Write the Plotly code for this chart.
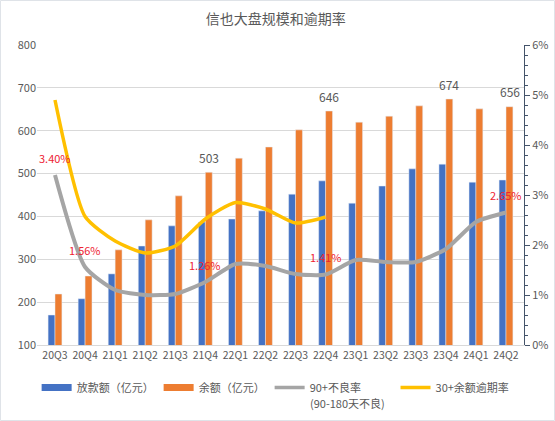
import plotly.graph_objects as go

quarters = ["20Q3", "20Q4", "21Q1", "21Q2", "21Q3", "21Q4", "22Q1", "22Q2",
            "22Q3", "22Q4", "23Q1", "23Q2", "23Q3", "23Q4", "24Q1", "24Q2"]
loan_amount = [170, 208, 266, 331, 378, 387, 394, 413, 452, 483, 431, 471, 511, 522, 480, 485]
balance = [219, 261, 322, 392, 448, 503, 536, 562, 602, 646, 620, 634, 658, 674, 651, 656]
npl90 = [3.40, 1.56, 1.10, 1.00, 1.02, 1.26, 1.62, 1.58, 1.42, 1.41, 1.70, 1.66, 1.66, 1.92, 2.46, 2.65]
dpd30 = [4.90, 2.57, 2.08, 1.84, 1.98, 2.52, 2.85, 2.72, 2.44, 2.56,
         None, None, None, None, None, None]
npl_labeled = ["20Q3", "20Q4", "21Q4", "22Q4", "24Q2"]
balance_labeled = ["21Q4", "22Q4", "23Q4", "24Q2"]

BLUE = "#4472c4"
ORANGE = "#ed7d31"
GRAY = "#a5a5a5"
YELLOW = "#ffc000"
TXT = "#595959"
RED = "#ee2232"
FONT = "Noto Sans CJK SC"

fig = go.Figure()
fig.add_trace(go.Bar(x=quarters, y=loan_amount, marker_color=BLUE, showlegend=False, yaxis="y"))
fig.add_trace(go.Bar(x=quarters, y=balance, marker_color=ORANGE, showlegend=False, yaxis="y"))
fig.add_trace(go.Scatter(x=quarters, y=npl90, mode="lines", line=dict(color=GRAY, width=4, shape="spline", smoothing=0.6),
                         showlegend=False, yaxis="y2"))
fig.add_trace(go.Scatter(x=quarters, y=dpd30, mode="lines", line=dict(color=YELLOW, width=3.5, shape="spline", smoothing=0.6),
                         showlegend=False, yaxis="y2", connectgaps=False))

# legend-only entries (wide swatches)
legend_items = [("放款额（亿元）", BLUE, 7), ("余额（亿元）", ORANGE, 7),
                ("90+不良率" + "\u00a0" * 12, GRAY, 3.5), ("30+余额逾期率", YELLOW, 3.5)]
for name, col, w in legend_items:
    fig.add_trace(go.Scatter(x=[None], y=[None], mode="lines", name=name,
                             line=dict(color=col, width=w), yaxis="y2"))

annotations = []
for q, v in zip(quarters, npl90):
    if q in npl_labeled:
        annotations.append(dict(x=q, y=v, xref="x", yref="y2", text=f"{v:.2f}%", showarrow=False,
                                yshift=17.5, font=dict(color=RED, size=11, family=FONT)))
for q, v in zip(quarters, balance):
    if q in balance_labeled:
        annotations.append(dict(x=q, y=v, xref="x", yref="y", text=f"{v}", showarrow=False,
                                xshift=3.5, yshift=15, font=dict(color=TXT, size=12, family=FONT)))
# second line of the 90+ legend entry
annotations.append(dict(x=(347 - 37) / 487, y=(345 - 403) / 300, xref="paper", yref="paper",
                        text="(90-180天不良)", showarrow=False, xanchor="center", yanchor="middle",
                        font=dict(color=TXT, size=11, family=FONT)))

fig.update_layout(
    width=555, height=421,
    margin=dict(l=37, r=31, t=45, b=76, autoexpand=False),
    paper_bgcolor="white", plot_bgcolor="white",
    font=dict(family=FONT, color=TXT, size=11),
    title=dict(text="信也大盘规模和逾期率", x=0.497, xanchor="center", y=1 - 19 / 421, yanchor="middle",
               font=dict(size=14, color=TXT, family=FONT)),
    barmode="group", bargap=0.54, bargroupgap=0,
    xaxis=dict(type="category", showgrid=False, showline=True, linecolor="#d9d9d9", linewidth=1,
               ticks="", tickfont=dict(size=10.5, color=TXT)),
    yaxis=dict(range=[100, 800], dtick=100, showgrid=True, gridcolor="#d9d9d9", gridwidth=1,
               showline=False, zeroline=False, ticks="", tickfont=dict(size=11, color=TXT)),
    yaxis2=dict(range=[0, 6], dtick=1, overlaying="y", side="right", showgrid=False, zeroline=False,
                ticksuffix="%", showline=True, linecolor="#44546a", linewidth=1,
                ticks="outside", ticklen=5, tickcolor="#44546a",
                minor=dict(ticks="outside", dtick=0.2, ticklen=3, tickcolor="#44546a"),
                tickfont=dict(size=11, color=TXT)),
    legend=dict(orientation="h", x=0.49, xanchor="center", y=-0.093, yanchor="top",
                font=dict(size=11, color=TXT, family=FONT), valign="middle",
                itemwidth=30, tracegroupgap=0, bgcolor="rgba(0,0,0,0)"),
    annotations=annotations,
    shapes=[dict(type="rect", xref="paper", yref="paper",
                 x0=(0.5 - 37) / 487, x1=(554.5 - 37) / 487,
                 y0=(345 - 420.5) / 300, y1=(345 - 0.5) / 300,
                 line=dict(color="#dfe3e8", width=1), layer="below")],
)

fig.write_html("out.html", config={"displayModeBar": False},
               post_script="document.body.style.margin='0';document.body.style.overflow='hidden';")
